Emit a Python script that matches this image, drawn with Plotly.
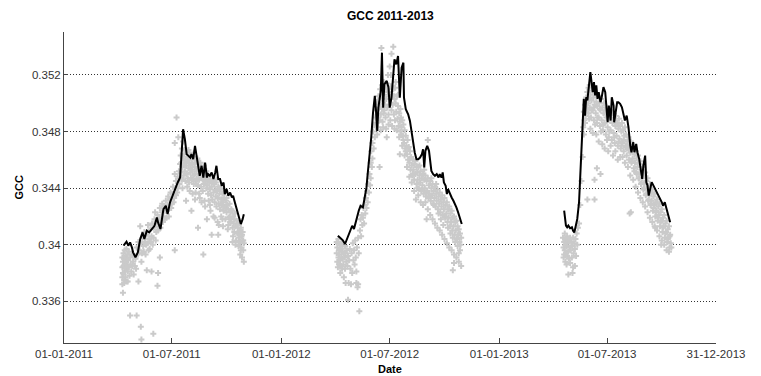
import pandas as pd
import plotly.graph_objects as go

# ---- running-mean GCC line, per season (day of year, value) ----
line_2011_day = [100,105,108,111,114,116,120,124,128,132,
                 135,139,143,147,152,156,158,162,167,171,
                 174,178,182,186,191,195,198,200,203,206,
                 209,212,214,217,220,223,226,228,231,234,
                 237,240,242,245,248,251,254,256,259,262,
                 265,268,270,273,276,279,282,284,287,290,
                 293,297,300,302]
line_2011_val = [.33993,.34021,.33993,.34016,.33981,.33946,.33911,.33946,.34040,.34087,
                 .34040,.34099,.34087,.34111,.34134,.34193,.34158,.34111,.34252,.34275,
                 .34216,.34299,.34346,.34393,.34440,.34475,.34699,.34816,.34746,.34640,
                 .34628,.34616,.34640,.34605,.34699,.34628,.34558,.34487,.34558,.34475,
                 .34581,.34475,.34499,.34487,.34511,.34464,.34511,.34558,.34464,.34464,
                 .34416,.34440,.34358,.34393,.34346,.34369,.34334,.34346,.34299,.34252,
                 .34205,.34146,.34181,.34216]

line_2012_day = [95,100,103,107,111,115,119,122,126,130,
                 133,137,140,143,145,148,151,154,157,159,
                 161,163,167,169,171,173,177,180,182,185,
                 188,190,193,196,
                 199,202,205,206,209,213,216,219,222,224,
                 227,230,233,236,238,240,242,245,248,250,
                 252,255,258,261,264,266,269,271,273,276,
                 278,280,283,286,289,292,294,297,300,303]
line_2012_val = [.34064,.34040,.34033,.34005,.34052,.34099,.34134,.34111,.34181,.34240,
                 .34275,.34264,.34334,.34405,.34499,.34616,.34758,.34934,.35052,.34946,
                 .34805,.34969,.35087,.35358,.34969,.35134,.35158,.35111,.34969,.35040,
                 .35205,.35311,.35275,.35334,
                 .35040,.35252,.35287,.35040,.34958,.34922,.34875,.34781,.34699,.34652,
                 .34605,.34605,.34616,.34640,.34675,.34546,.34664,.34699,.34664,.34569,
                 .34522,.34499,.34487,.34499,.34475,.34499,.34475,.34511,.34440,.34416,
                 .34358,.34393,.34358,.34334,.34311,.34287,.34264,.34228,.34193,.34146]

line_2013_day = [109,112,114,116,119,122,124,126,128,131,
                 134,136,138,141,142,144,146,148,150,152,
                 153,155,157,159,161,163,165,167,170,172,
                 175,178,180,182,184,187,189,192,193,195,
                 198,200,203,206,208,211,214,217,220,222,
                 225,227,230,232,235,238,240,242,245,247,
                 249,251,254,256,259,262,264,267,270,273,
                 275,278,281,284,287]
line_2013_val = [.34241,.34135,.34123,.34135,.34116,.34123,.34099,.34087,.34123,.34182,
                 .34300,.34465,.34677,.34866,.35031,.34913,.35043,.35020,.35126,.35185,
                 .35220,.35149,.35079,.35149,.35055,.35126,.35031,.35079,.35008,.35043,
                 .35114,.35079,.34996,.34866,.34984,.34878,.35043,.34984,.34866,.34937,
                 .35008,.35008,.34996,.34972,.34937,.34878,.34913,.34831,.34701,.34654,
                 .34725,.34654,.34713,.34654,.34607,.34536,.34465,.34559,.34630,.34441,
                 .34418,.34347,.34394,.34441,.34418,.34394,.34371,.34347,.34323,.34300,
                 .34276,.34300,.34253,.34205,.34158]

# ---- individual GCC observations, (day of year, value) ----
obs_2011 = [
    (98,.3391),(98,.3384),(98,.3377),(98,.3372),(99,.3388),(99,.3380),(99,.3366),(100,.3394),
    (100,.3385),(100,.3379),(101,.3390),(101,.3375),(102,.3396),(102,.3386),(102,.3381),(103,.3392),
    (103,.3377),(104,.3388),(104,.3383),(105,.3397),(105,.3390),(105,.3374),(106,.3386),(107,.3393),
    (107,.3381),(108,.3389),(109,.3395),(109,.3384),(110,.3378),(111,.3391),(111,.3350),(112,.3386),
    (113,.3381),(114,.3393),(115,.3385),(116,.3388),(117,.3379),(118,.3392),(119,.3385),(120,.3390),
    (121,.3383),(101,.3373),(107,.3374),(122,.3350),(125,.3374),(129,.3342),(130,.3333),(139,.3382),
    (147,.3381),(150,.3337),(157,.3371),(158,.3380),(161,.3391),(186,.3396),
    (122,.3398),(124,.3393),(125,.3402),(127,.3396),(128,.3413),(129,.3401),(131,.3394),(132,.3405),
    (133,.3399),(135,.3409),(136,.3402),(137,.3393),(139,.3407),(140,.3401),(141,.3414),(143,.3404),
    (144,.3397),(145,.3411),(147,.3406),(148,.3415),(149,.3400),(151,.3412),(152,.3418),(153,.3423),
    (155,.3409),(156,.3416),(157,.3421),(159,.3413),(160,.3419),(161,.3426),(163,.3417),(164,.3423),
    (165,.3429),(167,.3420),(168,.3427),(170,.3424),(171,.3431),(172,.3419),(174,.3428),(175,.3434),
    (177,.3426),(178,.3432),(179,.3437),(181,.3429),(182,.3436),(183,.3441),(185,.3433),(186,.3450),
    (186,.3472),(187,.3440),(188,.3445),(189,.3490),(190,.3437),(191,.3448),(192,.3476),(193,.3452),
    (194,.3443),(195,.3457),
    (130,.3388),(134,.3395),(138,.3400),(142,.3396),(146,.3402),(150,.3405),(154,.3403),(158,.3410),
    (162,.3412),(166,.3416),(169,.3418),(173,.3424),(176,.3420),(180,.3426),(184,.3430),(188,.3435),
    (191,.3440),
    (196,.3463),(196,.3451),(197,.3458),(198,.3468),(198,.3446),(199,.3455),(200,.3473),(200,.3461),
    (201,.3449),(202,.3458),(202,.3464),(203,.3452),(204,.3445),(204,.3460),(205,.3431),(205,.3456),
    (206,.3466),(206,.3450),(207,.3459),(208,.3447),(208,.3462),(209,.3454),(210,.3444),(210,.3458),
    (211,.3465),(212,.3451),(212,.3456),(213,.3447),(214,.3424),(214,.3460),(215,.3453),(215,.3446),
    (216,.3457),(217,.3449),(217,.3462),(218,.3443),(219,.3455),(219,.3450),(220,.3458),(221,.3445),
    (221,.3437),(222,.3452),(223,.3460),(223,.3447),(224,.3454),(225,.3412),(225,.3442),(226,.3450),
    (226,.3457),(227,.3446),(228,.3453),(228,.3433),(229,.3449),(230,.3455),(230,.3441),(231,.3447),
    (232,.3452),(233,.3438),(233,.3446),(234,.3393),(234,.3451),(235,.3443),(236,.3448),(236,.3431),
    (237,.3445),(238,.3450),(239,.3440),(240,.3418),(240,.3446),
    (197,.3447),(199,.3440),(203,.3467),(207,.3441),(209,.3467),(211,.3438),(213,.3463),(216,.3436),
    (218,.3465),(220,.3432),(222,.3443),(224,.3461),(227,.3436),(229,.3458),(231,.3430),(235,.3456),
    (237,.3427),(239,.3452),(243,.3446),(246,.3424),(249,.3444),(253,.3419),(256,.3446),(260,.3414),
    (262,.3440),(266,.3418),(268,.3437),(271,.3426),(273,.3433),(276,.3414),(278,.3420),(281,.3425),
    (283,.3402),(286,.3418),(288,.3400),(291,.3415),(293,.3408),(295,.3402),(297,.3396),(299,.3407),
    (301,.3403),
    (241,.3442),(242,.3436),(242,.3447),(243,.3431),(244,.3444),(245,.3439),(245,.3428),(246,.3445),
    (247,.3435),(248,.3407),(248,.3441),(249,.3432),(250,.3446),(251,.3437),(251,.3420),(252,.3443),
    (253,.3430),(254,.3439),(255,.3434),(255,.3444),(256,.3427),(257,.3438),(258,.3416),(258,.3433),
    (259,.3407),(259,.3441),(260,.3429),(261,.3436),(262,.3425),(263,.3439),(264,.3420),(264,.3432),
    (265,.3428),(266,.3436),(267,.3413),(267,.3430),(268,.3424),(269,.3433),(270,.3427),(271,.3418),
    (272,.3431),(273,.3423),(274,.3428),(275,.3411),(276,.3425),(277,.3419),(278,.3429),(279,.3416),
    (280,.3423),
    (281,.3418),(282,.3424),(283,.3412),(284,.3406),(284,.3420),(285,.3415),(286,.3409),(287,.3422),
    (288,.3413),(289,.3403),(290,.3417),(291,.3408),(292,.3412),(293,.3399),(294,.3415),(294,.3405),
    (295,.3410),(296,.3393),(296,.3402),(297,.3412),(298,.3398),(298,.3406),(299,.3391),(300,.3403),
    (300,.3409),(301,.3396),(302,.3388),(302,.3401),
]

obs_2012 = [
    (93,.3402),(93,.3394),(94,.3398),(94,.3388),(95,.3401),(95,.3384),(96,.3404),(96,.3391),
    (97,.3396),(97,.3386),(98,.3400),(98,.3393),(99,.3380),(99,.3389),(100,.3397),(100,.3385),
    (101,.3402),(101,.3391),(102,.3395),(102,.3383),(103,.3390),(103,.3399),(104,.3386),(105,.3394),
    (105,.3377),(106,.3391),(107,.3399),(107,.3383),(108,.3373),(108,.3394),(109,.3388),(110,.3396),
    (111,.3385),(112,.3361),(112,.3392),(113,.3373),(114,.3389),(115,.3397),(116,.3383),(117,.3372),
    (118,.3394),(119,.3380),(120,.3401),(121,.3389),(122,.3396),(123,.3386),(124,.3403),(125,.3391),
    (126,.3381),(126,.3373),(127,.3398),(128,.3370),(129,.3372),(129,.3405),(130,.3394),(131,.3353),
    (132,.3410),(133,.3418),(134,.3406),(135,.3421),(136,.3414),(137,.3419),(138,.3426),(139,.3415),
    (140,.3428),(141,.3422),(142,.3433),(143,.3426),(144,.3438),(145,.3430),(146,.3443),(147,.3437),
    (148,.3450),(149,.3442),(150,.3458),(150,.3447),(151,.3466),(152,.3455),(153,.3472),(153,.3461),
    (154,.3480),(155,.3468),(156,.3485),(157,.3476),(158,.3490),(159,.3483),
    (160,.3495),(160,.3486),(161,.3501),(162,.3492),(162,.3483),(163,.3505),(164,.3497),(165,.3455),
    (165,.3488),(166,.3510),(166,.3499),(167,.3492),(168,.3539),(168,.3504),(169,.3513),(169,.3496),
    (170,.3487),(170,.3506),(171,.3500),(172,.3515),(172,.3493),(173,.3508),(174,.3499),(175,.3511),
    (175,.3490),(176,.3503),(177,.3476),(177,.3514),(178,.3497),(179,.3506),(179,.3520),(180,.3492),
    (181,.3508),(182,.3499),(182,.3526),(183,.3503),(184,.3512),(185,.3535),(185,.3495),(186,.3506),
    (187,.3499),(188,.3540),(188,.3510),(189,.3492),(190,.3503),(191,.3511),(191,.3488),(192,.3500),
    (193,.3494),(194,.3505),(195,.3489),(196,.3498),(197,.3484),(198,.3493),(199,.3464),(199,.3487),
    (200,.3480),
    (161,.3478),(163,.3490),(167,.3481),(169,.3503),(171,.3483),(173,.3495),(176,.3482),(178,.3510),
    (180,.3485),(183,.3488),(184,.3520),(186,.3484),(189,.3505),(190,.3482),(192,.3515),(194,.3481),
    (196,.3506),(198,.3476),(200,.3496),
    (201,.3490),(202,.3483),(203,.3488),(204,.3477),(205,.3485),(206,.3472),(207,.3481),(208,.3468),
    (209,.3477),(210,.3470),(211,.3464),(212,.3474),(213,.3460),(214,.3469),(215,.3458),(216,.3466),
    (217,.3453),(218,.3462),(219,.3456),(220,.3449),(221,.3460),(222,.3453),(223,.3446),(224,.3457),
    (225,.3450),(226,.3432),(227,.3455),(227,.3443),(228,.3451),(229,.3446),(230,.3455),(231,.3440),
    (232,.3449),(233,.3444),(234,.3452),(235,.3438),(236,.3447),(237,.3442),(238,.3450),(239,.3436),
    (240,.3446),
    (201,.3478),(203,.3470),(205,.3474),(207,.3463),(209,.3466),(211,.3455),(213,.3468),(215,.3448),
    (217,.3461),(219,.3444),(221,.3450),(223,.3438),(225,.3459),(228,.3440),(230,.3435),(232,.3456),
    (234,.3430),(236,.3439),(238,.3428),(240,.3453),(242,.3430),(244,.3437),(246,.3425),(248,.3434),
    (250,.3421),(252,.3447),(254,.3418),(256,.3428),(258,.3415),(260,.3443),(262,.3412),(264,.3422),
    (266,.3410),(268,.3418),(270,.3407),(272,.3414),(274,.3404),(276,.3420),(278,.3401),(280,.3412),
    (282,.3398),(284,.3408),(286,.3396),(288,.3405),(290,.3393),(292,.3402),(294,.3391),(296,.3399),
    (298,.3388),(300,.3396),
    (241,.3440),(242,.3449),(243,.3434),(244,.3418),(244,.3445),(245,.3438),(246,.3474),(246,.3447),
    (247,.3433),(248,.3442),(249,.3436),(250,.3445),(251,.3431),(252,.3440),(253,.3435),(254,.3443),
    (255,.3429),(256,.3438),(257,.3433),(258,.3441),(259,.3427),(260,.3436),(261,.3431),(262,.3439),
    (263,.3425),(264,.3434),(265,.3429),(266,.3437),(267,.3423),(268,.3432),(269,.3427),(270,.3435),
    (271,.3421),(272,.3430),(273,.3425),(274,.3433),(275,.3419),(276,.3428),(277,.3422),(278,.3430),
    (279,.3416),(280,.3425),(281,.3419),(282,.3427),(283,.3413),(284,.3422),(285,.3416),(286,.3424),
    (287,.3410),(288,.3382),(288,.3419),(289,.3413),(290,.3387),(290,.3420),(291,.3407),(292,.3416),
    (293,.3410),(294,.3417),(295,.3404),(296,.3413),(297,.3407),(298,.3394),(298,.3411),(299,.3402),
    (300,.3408),(301,.3400),(302,.3385),(302,.3405),
]

obs_2013 = [
    (107,.3405),(108,.3398),(108,.3391),(109,.3402),(109,.3393),(110,.3408),(110,.3396),(111,.3400),
    (111,.3388),(112,.3404),(112,.3394),(113,.3399),(113,.3386),(114,.3406),(114,.3392),(115,.3401),
    (116,.3379),(116,.3395),(117,.3403),(117,.3390),(118,.3398),(119,.3405),(119,.3387),(120,.3396),
    (121,.3402),(122,.3391),(123,.3380),(123,.3399),(124,.3384),(124,.3405),(125,.3394),(126,.3401),
    (127,.3385),(127,.3397),(128,.3404),(129,.3392),(130,.3408),(131,.3400),(132,.3412),
    (134,.3415),(136,.3428),(138,.3445),(140,.3462),(142,.3478),(144,.3486),(146,.3493),(148,.3432),
    (141,.3483),(142,.3494),(143,.3488),(144,.3499),(145,.3491),(146,.3504),(147,.3496),(148,.3508),
    (149,.3500),(150,.3511),(150,.3493),(151,.3503),(152,.3513),(152,.3497),(153,.3506),(154,.3490),
    (155,.3502),(156,.3509),(157,.3495),(158,.3504),(159,.3488),(160,.3446),(160,.3432),(160,.3499),
    (161,.3507),(162,.3493),(163,.3501),(164,.3454),(164,.3486),(165,.3498),(166,.3505),(167,.3490),
    (168,.3500),(169,.3484),(170,.3450),(170,.3495),(171,.3503),(172,.3488),(173,.3497),(174,.3481),
    (175,.3493),(176,.3500),(177,.3486),(178,.3495),(179,.3478),(180,.3490),(181,.3497),(182,.3483),
    (183,.3492),(184,.3476),(185,.3488),(186,.3495),(187,.3481),(188,.3490),(189,.3474),(190,.3486),
    (191,.3493),(192,.3479),(193,.3488),(194,.3472),(195,.3484),(196,.3491),(197,.3477),(198,.3486),
    (199,.3470),(200,.3482),(201,.3489),(202,.3475),(203,.3484),(204,.3468),(205,.3480),
    (151,.3489),(153,.3482),(155,.3495),(157,.3479),(159,.3497),(161,.3485),(163,.3478),(165,.3490),
    (167,.3473),(169,.3496),(171,.3480),(173,.3471),(175,.3485),(177,.3468),(179,.3492),(181,.3474),
    (183,.3466),(185,.3480),(187,.3470),(189,.3488),(191,.3463),(193,.3476),(195,.3466),(197,.3485),
    (199,.3460),(201,.3473),(203,.3462),(205,.3470),
    (206,.3486),(207,.3472),(208,.3481),(209,.3466),(210,.3477),(211,.3483),(212,.3469),(213,.3478),
    (214,.3463),(215,.3473),(216,.3468),(217,.3476),(218,.3460),(219,.3422),(219,.3471),(220,.3465),
    (221,.3423),(221,.3473),(222,.3458),(223,.3467),(224,.3461),(225,.3469),(226,.3454),(227,.3464),
    (228,.3458),(229,.3466),(230,.3451),(231,.3461),(232,.3455),(233,.3463),(234,.3447),(235,.3457),
    (236,.3451),(237,.3459),(238,.3443),(239,.3453),(240,.3447),(241,.3455),(242,.3439),(243,.3449),
    (244,.3443),(245,.3451),(246,.3435),(247,.3445),(248,.3439),(249,.3447),(250,.3431),(251,.3441),
    (252,.3435),(253,.3443),(254,.3428),(255,.3437),(256,.3431),(257,.3439),(258,.3424),(259,.3434),
    (260,.3428),(261,.3436),(262,.3412),(262,.3420),(263,.3430),(264,.3424),(265,.3432),(266,.3417),
    (267,.3427),(268,.3421),(269,.3429),(270,.3413),(271,.3423),(272,.3400),(272,.3417),(273,.3425),
    (274,.3409),(275,.3419),(276,.3413),(277,.3421),(278,.3405),(279,.3415),(280,.3409),(281,.3417),
    (282,.3402),(283,.3411),(284,.3405),(285,.3413),(286,.3398),(287,.3407),(289,.3398),
    (207,.3462),(209,.3474),(211,.3458),(213,.3470),(216,.3455),(218,.3467),(220,.3449),(223,.3459),
    (225,.3446),(227,.3452),(229,.3441),(231,.3450),(233,.3437),(235,.3447),(237,.3433),(239,.3444),
    (241,.3430),(243,.3440),(245,.3427),(247,.3436),(249,.3423),(251,.3432),(253,.3419),(255,.3429),
    (257,.3416),(259,.3426),(261,.3413),(263,.3423),(265,.3410),(267,.3419),(269,.3406),(271,.3416),
    (273,.3403),(275,.3412),(277,.3400),(279,.3408),(281,.3396),(283,.3404),(285,.3395),(286,.3406),
    (288,.3401),
]

tick_dates = ["2011-01-01", "2011-07-01", "2012-01-01", "2012-07-01",
              "2013-01-01", "2013-07-01", "2013-12-31"]
tick_labels = ["01-01-2011", "01-07-2011", "01-01-2012", "01-07-2012",
               "01-01-2013", "01-07-2013", "31-12-2013"]
y_ticks = [0.336, 0.34, 0.344, 0.348, 0.352]
y_labels = ["0.336", "0.34", "0.344", "0.348", "0.352"]


def to_dates(year, days):
    return pd.Timestamp(year=year, month=1, day=1) + pd.to_timedelta(list(days), unit="D")


FONT = "Liberation Sans, Arial, sans-serif"
fig = go.Figure()

# observations underneath, smoothed line on top
for year, obs in [(2011, obs_2011), (2012, obs_2012), (2013, obs_2013)]:
    days = [d for d, _ in obs]
    vals = [v for _, v in obs]
    fig.add_trace(go.Scatter(
        x=to_dates(year, days), y=vals, mode="markers",
        marker=dict(symbol="cross", size=5, color="#cacaca", line=dict(width=0)),
        showlegend=False, hoverinfo="skip"))

for year, days, vals in [(2011, line_2011_day, line_2011_val),
                         (2012, line_2012_day, line_2012_val),
                         (2013, line_2013_day, line_2013_val)]:
    fig.add_trace(go.Scatter(
        x=to_dates(year, days), y=vals, mode="lines",
        line=dict(color="black", width=2), showlegend=False))

fig.update_layout(
    width=761, height=376,
    margin=dict(l=64, r=45, t=32, b=33),
    paper_bgcolor="white", plot_bgcolor="white",
    font=dict(family=FONT, size=11.5, color="#333333"),
    annotations=[
        dict(text="<b>GCC 2011-2013</b>", xref="paper", yref="paper", x=0.5, y=1,
             yshift=16, showarrow=False, font=dict(size=12, color="black"),
             xanchor="center", yanchor="middle"),
        dict(text="<b>Date</b>", xref="paper", yref="paper", x=0.5, y=0,
             yshift=-26, showarrow=False, font=dict(size=11, color="black"),
             xanchor="center", yanchor="middle"),
        dict(text="<b>GCC</b>", xref="paper", yref="paper", x=0, y=0.5,
             xshift=-46, showarrow=False, textangle=-90,
             font=dict(size=11, color="black"),
             xanchor="center", yanchor="middle"),
    ],
)

fig.update_xaxes(
    type="date", range=["2011-01-01", "2013-12-31"],
    tickmode="array", tickvals=tick_dates, ticktext=tick_labels,
    showgrid=False, zeroline=False,
    showline=True, linecolor="#444444", linewidth=1,
    ticks="inside", ticklen=5, tickcolor="#444444",
)
fig.update_yaxes(
    range=[0.33305, 0.35504],
    tickmode="array", tickvals=y_ticks, ticktext=y_labels,
    showgrid=True, gridcolor="#333333", griddash="1px,2px", gridwidth=1,
    zeroline=False,
    showline=True, linecolor="#444444", linewidth=1,
    ticks="inside", ticklen=4, tickcolor="#444444",
)

fig.write_html("out.html")
